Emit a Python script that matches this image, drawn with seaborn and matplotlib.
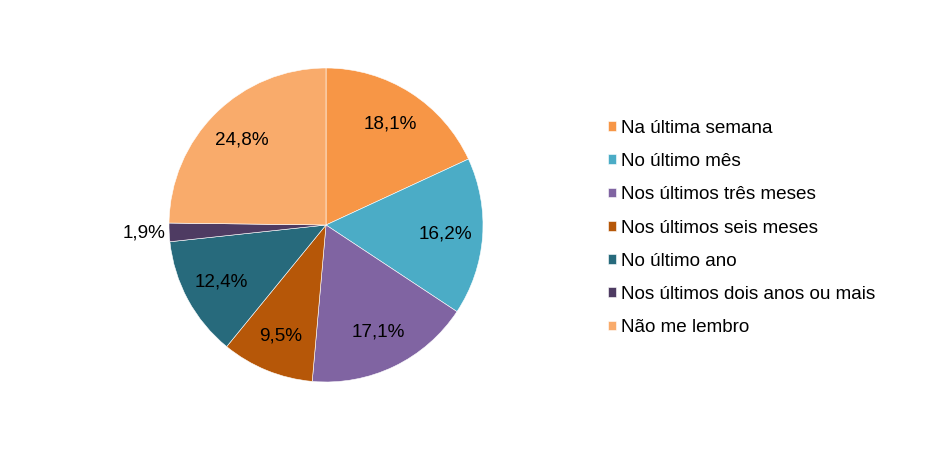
import matplotlib
matplotlib.use("Agg")
import matplotlib.pyplot as plt
import seaborn as sns
import numpy as np

categories = ["Na última semana", "No último mês", "Nos últimos três meses",
              "Nos últimos seis meses", "No último ano",
              "Nos últimos dois anos ou mais", "Não me lembro"]
values = [18.1, 16.2, 17.1, 9.5, 12.4, 1.9, 24.8]
colors = ["#F79646", "#4BACC6", "#8064A2", "#B65708", "#276A7C", "#4E3B62", "#F9AB6B"]

sns.set_theme(style="white")
plt.rcParams["font.family"] = ["Liberation Sans", "DejaVu Sans"]
plt.rcParams["text.color"] = "black"

FS = 13.6

fig = plt.figure(figsize=(9.34, 4.5), dpi=100)
ax = fig.add_axes([169/934, (450-382)/450, 314/934, 314/450])

pal = sns.color_palette(colors)

def fmt(v):
    return v.replace(".", ",")

inside = [fmt(f"{v:.1f}%") if v >= 5 else "" for v in values]
outside = [fmt(f"{v:.1f}%") if v < 5 else "" for v in values]

wedges, texts = ax.pie(values, colors=pal, startangle=90, counterclock=False,
                       labels=outside, labeldistance=1.025,
                       wedgeprops=dict(edgecolor="white", linewidth=0.4),
                       textprops=dict(fontsize=FS, color="black"))
for w, lab in zip(wedges, inside):
    if lab:
        ang = np.deg2rad((w.theta1 + w.theta2) / 2)
        r = 0.76
        ax.text(r*np.cos(ang), r*np.sin(ang), lab, ha="center", va="center",
                fontsize=FS, color="black")
ax.set_xlim(-1, 1)
ax.set_ylim(-1, 1)
ax.set_aspect("equal")

leg = fig.legend(wedges, categories, loc="center left",
                 bbox_to_anchor=(608/934, 1 - 228/450), frameon=False,
                 fontsize=FS, handlelength=0.4, handleheight=0.4,
                 handletextpad=0.3, labelspacing=0.86, borderaxespad=0,
                 borderpad=0)
for t in leg.get_texts():
    t.set_color("black")

fig.savefig("out.png", dpi=100)
